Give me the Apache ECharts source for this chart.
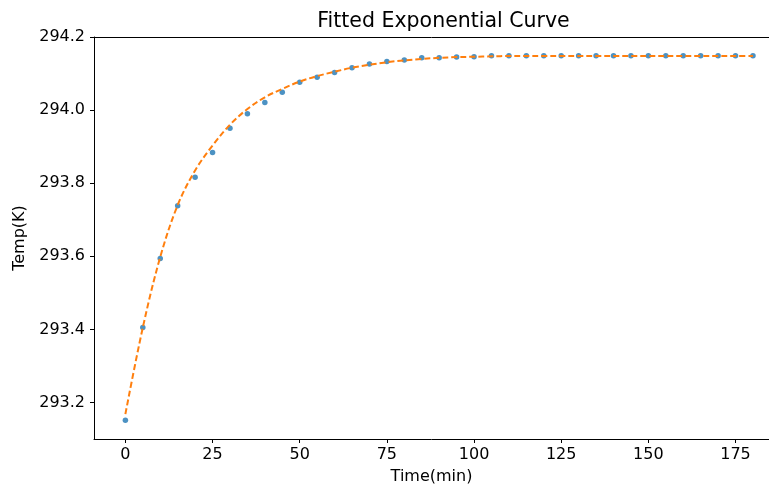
<!DOCTYPE html>
<html>
<head>
<meta charset="utf-8">
<script src="https://cdn.jsdelivr.net/npm/echarts@6/dist/echarts.min.js"></script>
<style>
html,body{margin:0;padding:0;background:#fff;}
#chart{width:769px;height:486px;}
</style>
</head>
<body>
<div id="chart"></div>
<script>
// Time (min) of the measured points and of the fitted curve
var timeMin = [0,5,10,15,20,25,30,35,40,45,50,55,60,65,70,75,80,85,90,95,100,105,110,115,120,125,130,135,140,145,150,155,160,165,170,175,180];
var measuredTemp = [293.151,293.405,293.594,293.738,293.816,293.884,293.950,293.990,294.021,294.049,294.076,294.090,294.103,294.116,294.126,294.133,294.137,294.143,294.143,294.145,294.146,294.149,294.149,294.149,294.149,294.149,294.149,294.149,294.149,294.149,294.149,294.149,294.149,294.149,294.149,294.149,294.149];
// Fitted exponential curve (K)
var fittedTemp = [293.168,293.405,293.598,293.740,293.835,293.903,293.960,294.003,294.035,294.058,294.078,294.093,294.105,294.116,294.124,294.131,294.136,294.140,294.143,294.145,294.146,294.147,294.148,294.148,294.148,294.148,294.148,294.148,294.148,294.148,294.148,294.148,294.148,294.148,294.148,294.148,294.148];
// Tick labels
var xTicks = [0,25,50,75,100,125,150,175];
var yTicks = [293.2,293.4,293.6,293.8,294.0,294.2];

var measuredData = timeMin.map(function(t,i){return [t, measuredTemp[i]];});
var fittedData = timeMin.map(function(t,i){return [t, fittedTemp[i]];});

var FONT = 'DejaVu Sans';
var X_MIN = -9, X_MAX = 184.6;
var chart = echarts.init(document.getElementById('chart'), null, {renderer:'canvas'});
chart.setOption({
  animation: false,
  backgroundColor: '#ffffff',
  title: {
    text: 'Fitted Exponential Curve',
    left: 438.5,
    top: 6,
    textAlign: 'center',
    textStyle: {fontFamily: FONT, fontSize: 20.5, fontWeight: 'normal', color: '#000'}
  },
  grid: {
    left: 94, right: 0, top: 37, bottom: 47, show: false,
    containLabel: false, outerBoundsMode: 'none'
  },
  xAxis: [{
    type: 'value', min: X_MIN, max: X_MAX, position: 'bottom',
    name: 'Time(min)', nameLocation: 'middle', nameGap: 30, nameMoveOverlap: false,
    nameTextStyle: {fontFamily: FONT, fontSize: 16, color: '#000'},
    axisLine: {show: true, onZero: false, lineStyle: {color: '#000', width: 1}},
    axisTick: {show: true, inside: false, length: 4, lineStyle: {color: '#000'}, customValues: xTicks},
    axisLabel: {fontFamily: FONT, fontSize: 16, color: '#000', margin: 8, customValues: xTicks},
    splitLine: {show: false}
  }, {
    type: 'value', min: X_MIN, max: X_MAX, position: 'top',
    axisLine: {show: true, onZero: false, lineStyle: {color: '#000', width: 1}},
    axisTick: {show: false}, axisLabel: {show: false}, splitLine: {show: false}
  }],
  yAxis: {
    type: 'value', min: 293.1, max: 294.2, position: 'left',
    name: 'Temp(K)', nameLocation: 'middle', nameGap: 64, nameRotate: 90,
    nameTextStyle: {fontFamily: FONT, fontSize: 16, color: '#000'},
    axisLine: {show: true, onZero: false, lineStyle: {color: '#000', width: 1}},
    axisTick: {show: true, inside: false, length: 4, lineStyle: {color: '#000'}, customValues: yTicks},
    axisLabel: {fontFamily: FONT, fontSize: 16, color: '#000', margin: 9, customValues: yTicks,
      formatter: function(v){return v.toFixed(1);}},
    splitLine: {show: false}
  },
  series: [
    {
      type: 'scatter', name: 'data', data: measuredData, xAxisIndex: 0,
      symbol: 'circle', symbolSize: 5.5,
      itemStyle: {color: '#1f77b4'}, z: 2
    },
    {
      type: 'line', name: 'fit', data: fittedData, xAxisIndex: 0,
      showSymbol: false, smooth: 0.35,
      lineStyle: {color: '#ff7f0e', width: 2, type: [6, 3]}, z: 3
    }
  ]
});
</script>
</body>
</html>
